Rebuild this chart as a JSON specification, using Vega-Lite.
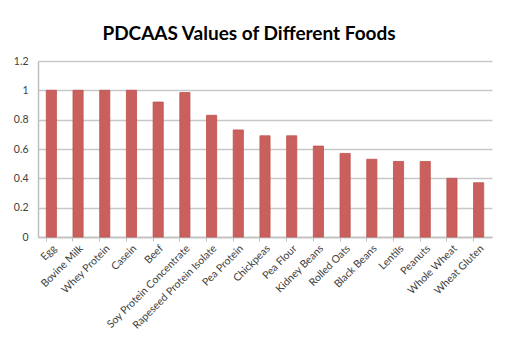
{
  "$schema": "https://vega.github.io/schema/vega-lite/v6.json",
  "autosize": "none",
  "width": 454,
  "height": 176,
  "padding": {"left": 38, "top": 61, "right": 20, "bottom": 117},
  "background": "white",
  "title": {
    "text": "PDCAAS Values of Different Foods",
    "font": "Lato",
    "fontSize": 19,
    "fontWeight": "bold",
    "color": "#000000",
    "anchor": "middle",
    "offset": 12,
    "dx": -16
  },
  "config": {
    "view": {"stroke": null},
    "axis": {"labelFont": "Lato", "labelColor": "#404040", "labelFontSize": 10.5}
  },
  "data": {
    "values": [
      {"food": "Egg", "pdcaas": 1.0},
      {"food": "Bovine Milk", "pdcaas": 1.0},
      {"food": "Whey Protein", "pdcaas": 1.0},
      {"food": "Casein", "pdcaas": 1.0},
      {"food": "Beef", "pdcaas": 0.92},
      {"food": "Soy Protein Concentrate", "pdcaas": 0.985},
      {"food": "Rapeseed Protein Isolate", "pdcaas": 0.83},
      {"food": "Pea Protein", "pdcaas": 0.73},
      {"food": "Chickpeas", "pdcaas": 0.69},
      {"food": "Pea Flour", "pdcaas": 0.69},
      {"food": "Kidney Beans", "pdcaas": 0.62},
      {"food": "Rolled Oats", "pdcaas": 0.57},
      {"food": "Black  Beans", "pdcaas": 0.53},
      {"food": "Lentils", "pdcaas": 0.515},
      {"food": "Peanuts", "pdcaas": 0.515},
      {"food": "Whole Wheat", "pdcaas": 0.40},
      {"food": "Wheat Gluten", "pdcaas": 0.37}
    ]
  },
  "mark": {"type": "bar", "color": "#c9605e", "stroke": "#c0504d", "strokeWidth": 0.8},
  "encoding": {
    "x": {
      "field": "food",
      "type": "nominal",
      "sort": null,
      "title": null,
      "scale": {"paddingInner": 0.62, "paddingOuter": 0.31},
      "axis": {
        "labelAngle": -45,
        "labelAlign": "right",
        "labelBaseline": "top",
        "labelPadding": 2,
        "bandPosition": 0,
        "tickColor": "#bfbfbf",
        "tickSize": 4,
        "domainColor": "#bfbfbf",
        "domainWidth": 1.5,
        "labelBound": false
      }
    },
    "y": {
      "field": "pdcaas",
      "type": "quantitative",
      "title": null,
      "scale": {"domain": [0, 1.2], "nice": false},
      "axis": {
        "values": [0, 0.2, 0.4, 0.6, 0.8, 1, 1.2],
        "format": "~g",
        "ticks": false,
        "labelPadding": 10,
        "gridColor": "#c8c8c8",
        "gridWidth": 1.5,
        "domainColor": "#bfbfbf",
        "domainWidth": 1.5
      }
    }
  }
}
